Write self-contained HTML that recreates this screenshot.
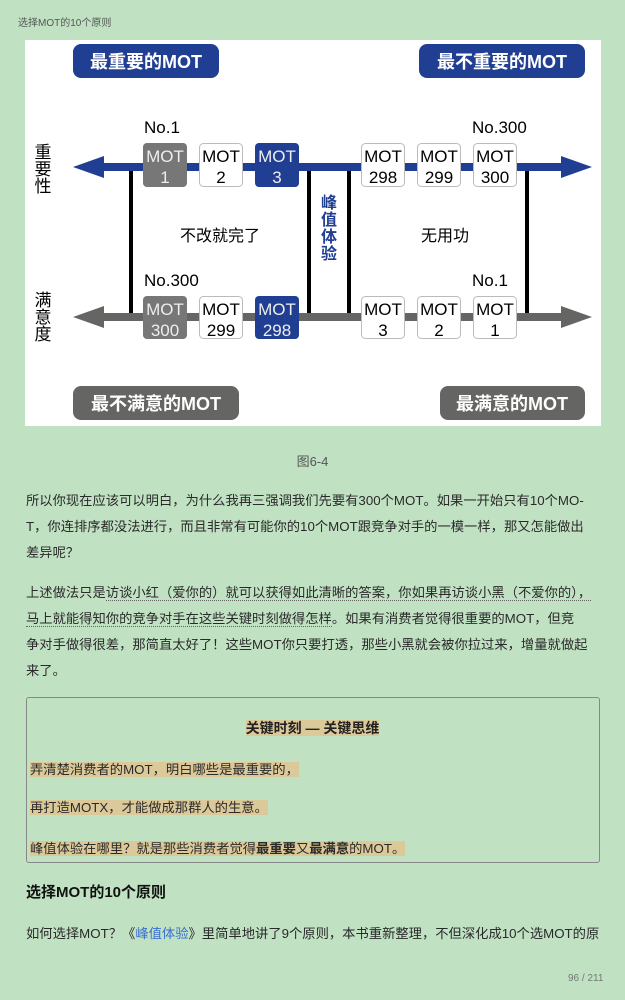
<!DOCTYPE html>
<html><head><meta charset="utf-8"><style>
*{margin:0;padding:0;box-sizing:border-box}
body{width:625px;height:1000px;background:#c0e2c3;position:relative;overflow:hidden;font-family:"Liberation Sans","Noto Sans CJK SC",sans-serif;color:#222}
.a{position:absolute}
.p{position:absolute;left:26px;width:576px;font-size:13.3px;color:#2a2a2a;white-space:nowrap}
.hl{background:#dcc99a}
</style></head><body>
<div class="a" style="left:18px;top:14px;font-size:10px;color:#555">选择MOT的10个原则</div>
<div class="a" style="left:25px;top:40px;width:576px;height:386px;background:#fff"></div>
<svg class="a" style="left:0;top:0" width="625" height="430" font-family="Liberation Sans, Noto Sans CJK SC, sans-serif">
<g font-weight="bold" font-size="18" fill="#fff" text-anchor="middle">
<rect x="73" y="44" width="146" height="34" rx="8" fill="#213f92"/><text x="146" y="68">最重要的MOT</text>
<rect x="419" y="44" width="166" height="34" rx="8" fill="#213f92"/><text x="502" y="68">最不重要的MOT</text>
<rect x="73" y="386" width="166" height="34" rx="8" fill="#656563"/><text x="156" y="410">最不满意的MOT</text>
<rect x="440" y="386" width="145" height="34" rx="8" fill="#656563"/><text x="512" y="410">最满意的MOT</text>
</g>
<rect x="100" y="163" width="464" height="8" fill="#213f92"/>
<polygon points="73,167 104,156 104,178" fill="#213f92"/>
<polygon points="592,167 561,156 561,178" fill="#213f92"/>
<rect x="100" y="313" width="464" height="8" fill="#656563"/>
<polygon points="73,317 104,306 104,328" fill="#656563"/>
<polygon points="592,317 561,306 561,328" fill="#656563"/>
<g fill="#000"><rect x="129" y="171" width="4" height="142"/><rect x="307" y="171" width="4" height="142"/><rect x="347" y="171" width="4" height="142"/><rect x="525" y="171" width="4" height="142"/></g>
<g font-size="17" text-anchor="middle">
<rect x="143" y="143" width="44" height="44" rx="4" fill="#777"/><text x="165" y="162" fill="#eee">MOT</text><text x="165" y="183" fill="#eee">1</text>
<rect x="199.5" y="143.5" width="43" height="43" rx="4" fill="#fff" stroke="#bbb"/><text x="221" y="162">MOT</text><text x="221" y="183">2</text>
<rect x="255" y="143" width="44" height="44" rx="4" fill="#213f92"/><text x="277" y="162" fill="#eee">MOT</text><text x="277" y="183" fill="#eee">3</text>
<rect x="361.5" y="143.5" width="43" height="43" rx="4" fill="#fff" stroke="#bbb"/><text x="383" y="162">MOT</text><text x="383" y="183">298</text>
<rect x="417.5" y="143.5" width="43" height="43" rx="4" fill="#fff" stroke="#bbb"/><text x="439" y="162">MOT</text><text x="439" y="183">299</text>
<rect x="473.5" y="143.5" width="43" height="43" rx="4" fill="#fff" stroke="#bbb"/><text x="495" y="162">MOT</text><text x="495" y="183">300</text>
<rect x="143" y="296" width="44" height="43" rx="4" fill="#777"/><text x="165" y="315" fill="#eee">MOT</text><text x="165" y="336" fill="#eee">300</text>
<rect x="199.5" y="296.5" width="43" height="42" rx="4" fill="#fff" stroke="#bbb"/><text x="221" y="315">MOT</text><text x="221" y="336">299</text>
<rect x="255" y="296" width="44" height="43" rx="4" fill="#213f92"/><text x="277" y="315" fill="#eee">MOT</text><text x="277" y="336" fill="#eee">298</text>
<rect x="361.5" y="296.5" width="43" height="42" rx="4" fill="#fff" stroke="#bbb"/><text x="383" y="315">MOT</text><text x="383" y="336">3</text>
<rect x="417.5" y="296.5" width="43" height="42" rx="4" fill="#fff" stroke="#bbb"/><text x="439" y="315">MOT</text><text x="439" y="336">2</text>
<rect x="473.5" y="296.5" width="43" height="42" rx="4" fill="#fff" stroke="#bbb"/><text x="495" y="315">MOT</text><text x="495" y="336">1</text>
</g>
<g font-size="17">
<text x="144" y="133">No.1</text><text x="472" y="133">No.300</text>
<text x="144" y="286">No.300</text><text x="472" y="286">No.1</text>
<text x="220" y="241" text-anchor="middle" font-size="16">不改就完了</text>
<text x="445" y="241" text-anchor="middle" font-size="16">无用功</text>
</g>
<g font-size="17" text-anchor="middle"><text x="43" y="158">重</text><text x="43" y="175">要</text><text x="43" y="192">性</text>
<text x="43" y="306">满</text><text x="43" y="323">意</text><text x="43" y="340">度</text></g>
<g font-size="16" font-weight="bold" fill="#213f92" text-anchor="middle"><text x="329" y="208">峰</text><text x="329" y="225">值</text><text x="329" y="242">体</text><text x="329" y="259">验</text></g>
</svg>
<div class="a" style="left:0;width:625px;top:451px;text-align:center;font-size:13px;color:#555">图6-4</div>
<div class="p" style="top:490px">所以你现在应该可以明白，为什么我再三强调我们先要有300个MOT。如果一开始只有10个MO-</div>
<div class="p" style="top:516px">T，你连排序都没法进行，而且非常有可能你的10个MOT跟竞争对手的一模一样，那又怎能做出</div>
<div class="p" style="top:542px">差异呢？</div>
<div class="p" style="top:582px">上述做法只是<span style="border-bottom:1px dotted #666">访谈小红（爱你的）就可以获得如此清晰的答案，你如果再访谈小黑（不爱你的），</span></div>
<div class="p" style="top:608px"><span style="border-bottom:1px dotted #666">马上就能得知你的竞争对手在这些关键时刻做得怎样</span>。如果有消费者觉得很重要的MOT，但竞</div>
<div class="p" style="top:634px">争对手做得很差，那简直太好了！这些MOT你只要打透，那些小黑就会被你拉过来，增量就做起</div>
<div class="p" style="top:660px">来了。</div>
<div class="a" style="left:26px;top:697px;width:574px;height:166px;border:1px solid #888;border-radius:3px"></div>
<div class="a" style="left:0;width:625px;top:718px;text-align:center;font-size:14px;font-weight:bold"><span class="hl">关键时刻 — 关键思维</span></div>
<div class="p" style="left:30px;top:759px"><span class="hl">弄清楚消费者的MOT，明白哪些是最重要的，</span></div>
<div class="p" style="left:30px;top:797px"><span class="hl">再打造MOTX，才能做成那群人的生意。</span></div>
<div class="p" style="left:30px;top:838px"><span class="hl">峰值体验在哪里？就是那些消费者觉得<b>最重要</b>又<b>最满意</b>的MOT。</span></div>
<div class="p" style="top:881px;font-size:15px;font-weight:bold;color:#111">选择MOT的10个原则</div>
<div class="p" style="top:923px">如何选择MOT？《<span style="color:#3b6fd0">峰值体验</span>》里简单地讲了9个原则，本书重新整理，不但深化成10个选MOT的原</div>
<div class="a" style="left:568px;top:973px;font-size:10px;color:#777">96 / 211</div>
</body></html>
